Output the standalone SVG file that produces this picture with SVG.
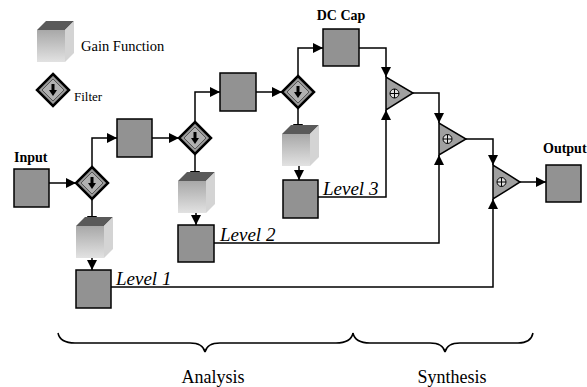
<svg xmlns="http://www.w3.org/2000/svg" width="587" height="387" viewBox="0 0 587 387">
<style>
.box{fill:#929292;stroke:#000;stroke-width:1.5}
.conn{fill:none;stroke:#000;stroke-width:1.5}
.brace{fill:none;stroke:#000;stroke-width:1.5}
text{font-family:'Liberation Serif','Times New Roman',Times,serif;fill:#000}
.lbl{font-size:14px;font-weight:bold}
.leg{font-size:13px}
.leg2{font-size:14.5px}
.lvl{font-size:19px;font-style:italic}
.big{font-size:18px}
</style>
<defs>
<marker id="ah" markerUnits="userSpaceOnUse" markerWidth="10" markerHeight="10" viewBox="0 0 10 10" refX="10" refY="5" orient="auto">
<path d="M0,0 L10,5 L0,10 Z" fill="#000"/>
</marker>
<linearGradient id="cf" x1="0" y1="0" x2="0" y2="1">
<stop offset="0" stop-color="#a8a8a8"/>
<stop offset="1" stop-color="#e2e2e2"/>
</linearGradient>
<g id="cube">
<polygon points="0,9 9,0 37,0 28,9" fill="#5a5a5a"/>
<polygon points="0,9 28,9 28,41 0,41" fill="url(#cf)"/>
<polygon points="28,9 37,0 37,32 28,41" fill="#d4d4d4"/>
</g>
<g id="diamond">
<polygon points="0,-16 16,0 0,16 -16,0" fill="#9a9a9a" stroke="#000" stroke-width="2.5"/>
<polygon points="0,-11 11,0 0,11 -11,0" fill="#b0b0b0" stroke="#555" stroke-width="1"/>
<rect x="-1.5" y="-6" width="3" height="6" fill="#000"/>
<polygon points="-4,0 4,0 0,6" fill="#000"/>
</g>
</defs>
<rect width="587" height="387" fill="#fff"/>

<g id="legend">
<use href="#cube" x="37" y="21"/>
<text class="leg2" x="81" y="51">Gain Function</text>
<use href="#diamond" x="53" y="90"/>
<text class="leg" x="74" y="101">Filter</text>
</g>

<g id="connectors">
<path class="conn" d="M49,183 L76,183" marker-end="url(#ah)"/>
<path class="conn" d="M92,167 L92,138 L117,138" marker-end="url(#ah)"/>
<path class="conn" d="M152,138 L179,138" marker-end="url(#ah)"/>
<path class="conn" d="M195,122 L195,92 L220,92" marker-end="url(#ah)"/>
<path class="conn" d="M256,92 L282,92" marker-end="url(#ah)"/>
<path class="conn" d="M298,76 L298,48 L323,48" marker-end="url(#ah)"/>
<path class="conn" d="M359,48 L386,48 L386,77" marker-end="url(#ah)"/>
<path class="conn" d="M413,93 L439,93 L439,123" marker-end="url(#ah)"/>
<path class="conn" d="M466,139 L493,139 L493,165" marker-end="url(#ah)"/>
<path class="conn" d="M520,182 L546,182" marker-end="url(#ah)"/>
<path class="conn" d="M92,199 L92,226" marker-end="url(#ah)"/>
<path class="conn" d="M92,258 L92,270" marker-end="url(#ah)"/>
<path class="conn" d="M195,154 L195,181" marker-end="url(#ah)"/>
<path class="conn" d="M196,212 L196,225" marker-end="url(#ah)"/>
<path class="conn" d="M298,108 L298,134" marker-end="url(#ah)"/>
<path class="conn" d="M299,165 L299,180" marker-end="url(#ah)"/>
<path class="conn" d="M111,287 L493,287 L493,199" marker-end="url(#ah)"/>
<path class="conn" d="M214,243 L439,243 L439,155" marker-end="url(#ah)"/>
<path class="conn" d="M318,197 L386,197 L386,110" marker-end="url(#ah)"/>
</g>

<g id="input">
<text class="lbl" x="14" y="162">Input</text>
<rect class="box" x="14" y="169" width="35" height="38"/>
</g>
<g id="filter1"><use href="#diamond" x="92" y="183"/></g>
<g id="box2"><rect class="box" x="117" y="119" width="35" height="38"/></g>
<g id="filter2"><use href="#diamond" x="195" y="138"/></g>
<g id="box3"><rect class="box" x="220" y="73" width="36" height="38"/></g>
<g id="filter3"><use href="#diamond" x="298" y="92"/></g>
<g id="dccap">
<text class="lbl" x="341" y="20" text-anchor="middle">DC Cap</text>
<rect class="box" x="323" y="29" width="36" height="37"/>
</g>

<g id="gain1"><use href="#cube" x="76" y="217"/></g>
<g id="gain2"><use href="#cube" x="178" y="172"/></g>
<g id="gain3"><use href="#cube" x="282" y="125"/></g>

<g id="level1">
<rect class="box" x="76" y="270" width="35" height="38"/>
<text class="lvl" x="116" y="285">Level 1</text>
</g>
<g id="level2">
<rect class="box" x="178" y="225" width="36" height="37"/>
<text class="lvl" x="220" y="241">Level 2</text>
</g>
<g id="level3">
<rect class="box" x="283" y="180" width="35" height="38"/>
<text class="lvl" x="323" y="195">Level 3</text>
</g>

<g id="adder1">
<polygon points="386,77 386,110 413,93" fill="#a0a0a0" stroke="#000" stroke-width="1.5"/>
<circle cx="394.5" cy="93.5" r="4.5" fill="#ddd" stroke="#000" stroke-width="1"/>
<path d="M390,93.5 H399 M394.5,89 V98" stroke="#000" stroke-width="1"/>
</g>
<g id="adder2">
<polygon points="439,123 439,155 466,139" fill="#a0a0a0" stroke="#000" stroke-width="1.5"/>
<circle cx="447.5" cy="139" r="4.5" fill="#ddd" stroke="#000" stroke-width="1"/>
<path d="M443,139 H452 M447.5,134.5 V143.5" stroke="#000" stroke-width="1"/>
</g>
<g id="adder3">
<polygon points="493,165 493,199 520,182" fill="#a0a0a0" stroke="#000" stroke-width="1.5"/>
<circle cx="501.5" cy="182" r="4.5" fill="#ddd" stroke="#000" stroke-width="1"/>
<path d="M497,182 H506 M501.5,177.5 V186.5" stroke="#000" stroke-width="1"/>
</g>
<g id="output">
<text class="lbl" x="543" y="153">Output</text>
<rect class="box" x="546" y="165" width="35" height="37"/>
</g>

<g id="braces">
<path class="brace" d="M58,333 Q60,343 75,343 L190,343 Q203,343 205,352 Q207,343 220,343 L336,343 Q351,343 353,333"/>
<path class="brace" d="M353,333 Q355,343 370,343 L430,343 Q443,343 445,352 Q447,343 460,343 L518,343 Q531,343 533,333"/>
<text class="big" x="213" y="383" text-anchor="middle">Analysis</text>
<text class="big" x="452" y="383" text-anchor="middle">Synthesis</text>
</g>
</svg>
